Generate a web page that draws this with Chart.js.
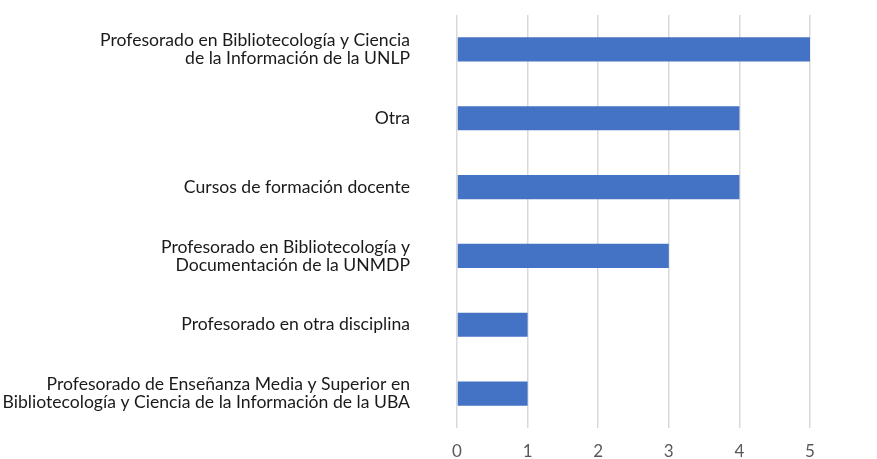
<!DOCTYPE html>
<html>
<head>
<meta charset="utf-8">
<script src="https://cdn.jsdelivr.net/npm/chart.js@4"></script>
<style>
  html, body { margin: 0; padding: 0; background: #fff; }
  #wrap { width: 877px; height: 459px; }
</style>
</head>
<body>
<div id="wrap"><canvas id="chart"></canvas></div>
<script>
const categories = [
  ["Profesorado en Bibliotecología y Ciencia", "de la Información de la UNLP"],
  "Otra",
  "Cursos de formación docente",
  ["Profesorado en Bibliotecología y", "Documentación de la UNMDP"],
  "Profesorado en otra disciplina",
  ["Profesorado de Enseñanza Media y Superior en", "Bibliotecología y Ciencia de la Información de la UBA"]
];
const values = [5, 4, 4, 3, 1, 1];
const xTicks = [0, 1, 2, 3, 4, 5];

const ctx = document.getElementById("chart").getContext("2d");
new Chart(ctx, {
  type: "bar",
  data: {
    labels: categories,
    datasets: [{
      data: values,
      backgroundColor: "#4472C4",
      barPercentage: 0.35,
      categoryPercentage: 1
    }]
  },
  options: {
    indexAxis: "y",
    responsive: true,
    maintainAspectRatio: false,
    animation: false,
    layout: { padding: { top: 15, right: 67, left: 0, bottom: 0 } },
    plugins: { legend: { display: false }, tooltip: { enabled: false } },
    scales: {
      x: {
        min: 0,
        max: 5,
        afterBuildTicks: (s) => { s.ticks = xTicks.map(v => ({ value: v })); },
        afterFit: (s) => { s.height = 31; s.paddingLeft = 0; s.paddingRight = 0; },
        border: { display: false },
        grid: { color: "#d9d9d9", lineWidth: 1.5, drawTicks: false },
        ticks: { padding: 13, color: "#595959", font: { family: "Lato", size: 17 } }
      },
      y: {
        afterFit: (s) => { s.width = 457; s.paddingTop = 0; s.paddingBottom = 0; },
        border: { display: false },
        grid: { display: false, drawTicks: false },
        ticks: { padding: 47, color: "#1a1a1a", font: { family: "Lato", size: 17.6, lineHeight: "18px" } }
      }
    }
  }
});
</script>
</body>
</html>
